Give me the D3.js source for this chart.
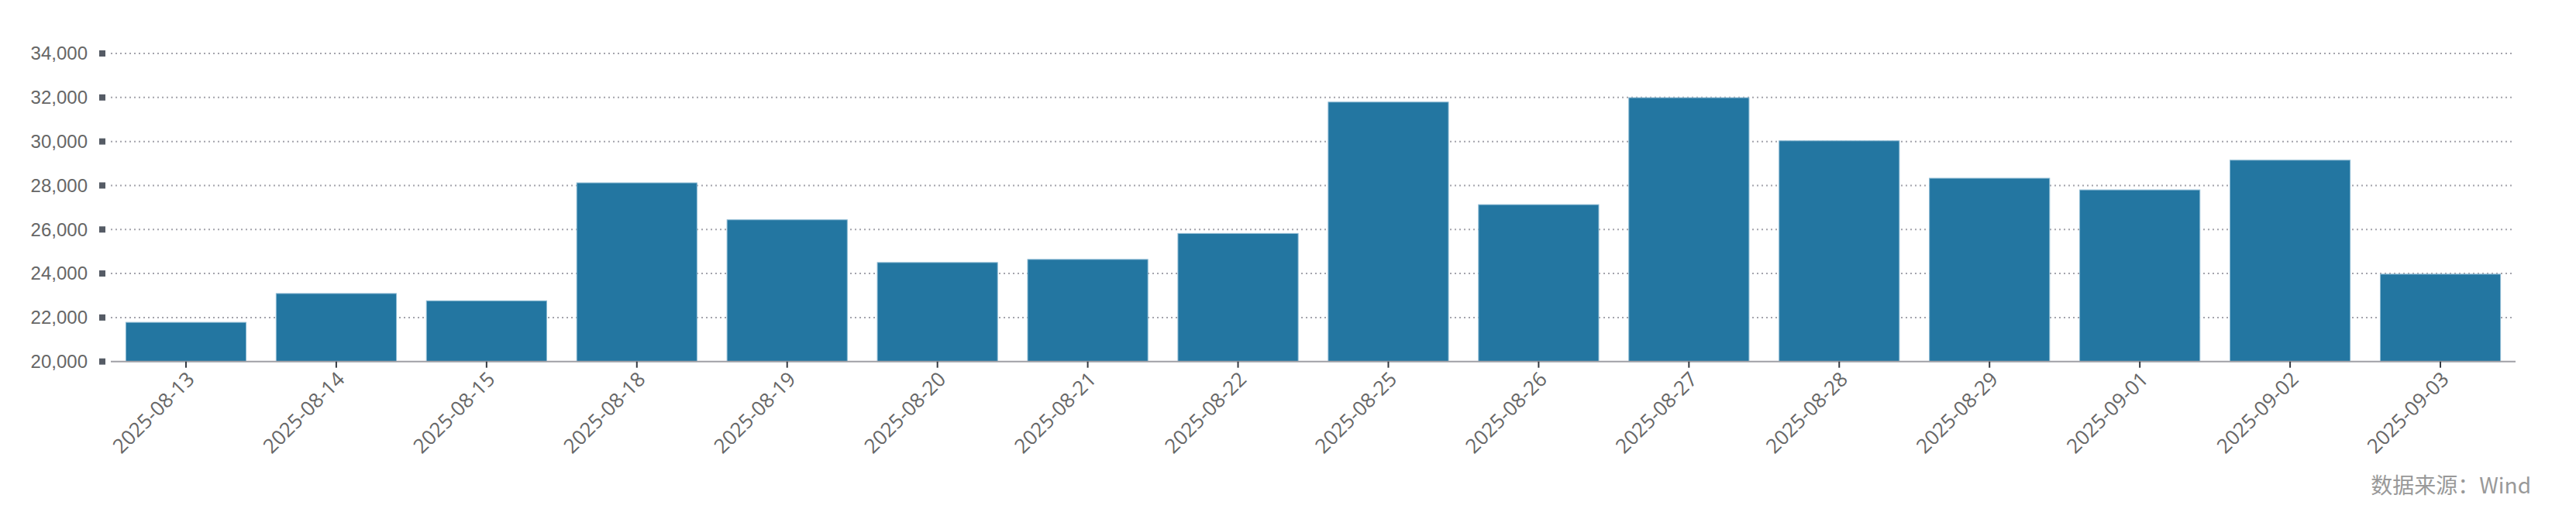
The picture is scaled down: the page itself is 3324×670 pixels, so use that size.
<!DOCTYPE html>
<html>
<head>
<meta charset="utf-8">
<script src="https://cdn.jsdelivr.net/npm/d3@7"></script>
<style>
  html, body { margin: 0; padding: 0; background: #fff; }
  svg { display: block; }
</style>
</head>
<body>
<svg id="chart" width="3324" height="670"></svg>
<script>
const categories = ["2025-08-13","2025-08-14","2025-08-15","2025-08-18","2025-08-19","2025-08-20","2025-08-21","2025-08-22","2025-08-25","2025-08-26","2025-08-27","2025-08-28","2025-08-29","2025-09-01","2025-09-02","2025-09-03"];
const values = [21780, 23090, 22760, 28120, 26440, 24500, 24640, 25820, 31790, 27130, 31990, 30030, 28330, 27800, 29150, 23970];
const yTicks = [20000, 22000, 24000, 26000, 28000, 30000, 32000, 34000];
const sourceText = "数据来源：Wind";

(function () {
const svg = d3.select("#chart");
const mLeft = 143, mRight = 3246, mTop = 69, mBottom = 466.7;

const x = d3.scaleBand().domain(categories).range([mLeft, mRight]).paddingInner(0.2).paddingOuter(0.1);
const y = d3.scaleLinear().domain([20000, 34000]).range([mBottom, mTop]);

// gridlines
svg.append("g").selectAll("line").data(yTicks.slice(1)).join("line")
  .attr("x1", mLeft).attr("x2", 3242)
  .attr("y1", d => y(d)).attr("y2", d => y(d))
  .attr("stroke", "#a4a4ac").attr("stroke-width", 2)
  .attr("stroke-dasharray", "2,4");

// bars
svg.append("g").selectAll("rect").data(values).join("rect")
  .attr("x", (d, i) => x(categories[i]))
  .attr("y", d => y(d))
  .attr("width", x.bandwidth())
  .attr("height", d => y(20000) - y(d))
  .attr("fill", "#2376a1")
  .attr("stroke", "#8dbbd4").attr("stroke-width", 1);

// y axis labels + square markers
const yAxis = svg.append("g");
yAxis.selectAll("rect").data(yTicks).join("rect")
  .attr("x", 128).attr("y", d => y(d) - 4).attr("width", 8).attr("height", 8)
  .attr("fill", "#555b65");
yAxis.selectAll("text").data(yTicks).join("text")
  .attr("x", 113).attr("y", d => y(d))
  .attr("dy", "0.35em")
  .attr("text-anchor", "end")
  .attr("font-family", "'Liberation Sans', Arial, sans-serif")
  .attr("font-size", 24)
  .attr("fill", "#666")
  .text(d => d3.format(",")(d));

// x axis line
svg.append("line")
  .attr("x1", mLeft).attr("x2", mRight)
  .attr("y1", mBottom).attr("y2", mBottom)
  .attr("stroke", "#a0a0a6").attr("stroke-width", 2);

// x ticks
const xAxis = svg.append("g");
xAxis.selectAll("line").data(categories).join("line")
  .attr("x1", d => x(d) + x.bandwidth() / 2).attr("x2", d => x(d) + x.bandwidth() / 2)
  .attr("y1", mBottom).attr("y2", mBottom + 8)
  .attr("stroke", "#333840").attr("stroke-width", 2);
xAxis.selectAll("text").data(categories).join("text")
  .attr("transform", d => `translate(${x(d) + x.bandwidth() / 2 + 6},${mBottom + 18}) rotate(-45)`)
  .attr("text-anchor", "end")
  .attr("dy", "0.35em")
  .attr("font-family", "'Open Sans', 'Noto Sans', sans-serif")
  .attr("font-size", 26)
  .attr("fill", "#666")
  .text(d => d);

// source
svg.append("text")
  .attr("x", 3266).attr("y", 637)
  .attr("text-anchor", "end")
  .attr("font-family", "'Noto Sans CJK SC', sans-serif")
  .attr("font-size", 28)
  .attr("fill", "#999")
  .text(sourceText);
})();
</script>
</body>
</html>
